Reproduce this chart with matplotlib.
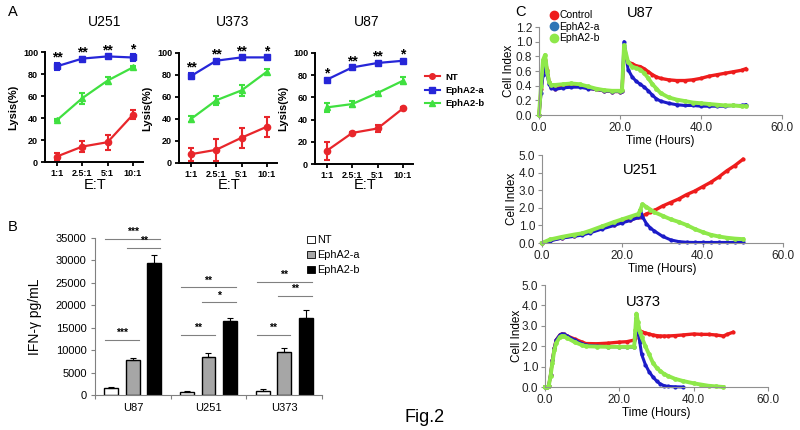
import numpy as np
import matplotlib
matplotlib.use('Agg')
import matplotlib.pyplot as plt
from matplotlib.lines import Line2D
from matplotlib.patches import Patch

plt.rcParams['font.family'] = ['Liberation Sans', 'DejaVu Sans']

W, H = 800, 430

# ---------------- panel A : lysis ----------------
ratios = ['1:1', '2.5:1', '5:1', '10:1']

u251_nt = [5, 14, 18, 43]
u251_nt_err = [3, 5, 7, 4]
u251_a = [87, 94, 96, 95]
u251_a_err = [3, 1, 1, 3]
u251_b = [38, 58, 74, 86]
u251_b_err = [1, 5, 3, 1]
u251_stars = ['**', '**', '**', '*']

u373_nt = [8, 12, 23, 33]
u373_nt_err = [6, 10, 9, 9]
u373_a = [79, 93, 96, 96]
u373_a_err = [3, 1, 1, 1]
u373_b = [40, 57, 66, 83]
u373_b_err = [3, 4, 5, 2]
u373_stars = ['**', '**', '**', '*']

u87_nt = [12, 28, 32, 50]
u87_nt_err = [8, 1, 3, 1]
u87_a = [76, 87, 91, 93]
u87_a_err = [1, 1, 1, 1]
u87_b = [51, 54, 64, 75]
u87_b_err = [4, 3, 1, 3]
u87_stars = ['*', '**', '**', '*']

# ---------------- panel B : IFN-gamma ----------------
cells_b = ['U87', 'U251', 'U373']
ifn_nt = [1500, 600, 900]
ifn_nt_err = [200, 250, 400]
ifn_a = [7700, 8500, 9600]
ifn_a_err = [500, 800, 800]
ifn_b = [29500, 16500, 17200]
ifn_b_err = [1700, 700, 1700]
# (group, bar from, bar to, height, label)
sig_bars = [(0, 0, 2, 34800, '***'), (0, 1, 2, 32800, '**'), (0, 0, 1, 12300, '***'),
            (1, 0, 2, 24000, '**'), (1, 1, 2, 20700, '*'), (1, 0, 1, 13400, '**'),
            (2, 0, 2, 25200, '**'), (2, 1, 2, 22100, '**'), (2, 0, 1, 13400, '**')]

# ---------------- panel C : cell index ----------------
u87_t = [0, 0.5, 1, 1.5, 2, 2.5, 3, 4, 6, 8,
         10, 12, 14, 16, 18, 20, 20.5, 21,
         22, 23, 24, 25, 26, 27, 28, 29, 30,
         32, 34, 36, 38, 40, 42, 44, 46, 48, 50, 51]
u87_ctrl = [0, 0.35, 0.6, 0.75, 0.62, 0.45, 0.38, 0.36, 0.38, 0.39,
            0.39, 0.37, 0.35, 0.33, 0.32, 0.32, 0.33, 0.85,
            0.72, 0.70, 0.67, 0.66, 0.63, 0.59, 0.55, 0.52, 0.50,
            0.48, 0.47, 0.47, 0.48, 0.50, 0.53, 0.55, 0.57, 0.59, 0.61, 0.63]
u87_epha = [0, 0.3, 0.55, 0.72, 0.55, 0.42, 0.37, 0.35, 0.37, 0.38,
            0.38, 0.36, 0.35, 0.33, 0.32, 0.32, 0.33, 1.0,
            0.62, 0.52, 0.46, 0.42, 0.38, 0.33, 0.27, 0.22, 0.19,
            0.16, 0.14, 0.13, 0.13, 0.12, 0.12, 0.12, 0.12, 0.13, 0.13, 0.14]
u87_ephb = [0, 0.4, 0.75, 0.82, 0.6, 0.45, 0.41, 0.41, 0.42, 0.43,
            0.42, 0.39, 0.36, 0.34, 0.33, 0.33, 0.34, 0.95,
            0.72, 0.66, 0.64, 0.62, 0.57, 0.5, 0.42, 0.36, 0.3,
            0.24, 0.21, 0.19, 0.17, 0.16, 0.15, 0.14, 0.13, 0.13, 0.12, 0.12]

u251_t = [0, 2, 5, 8, 10, 12, 15, 18, 20, 22, 24, 24.5, 25, 26, 27, 28,
          30, 32, 34, 36, 38, 40, 42, 44, 46, 48, 50]
u251_ctrl = [0, 0.15, 0.3, 0.42, 0.5, 0.62, 0.85, 1.05, 1.2, 1.32, 1.45, 1.5, 1.55, 1.65, 1.75, 1.85,
             2.1, 2.3, 2.5, 2.75, 2.95, 3.2, 3.45, 3.75, 4.1, 4.4, 4.75]
u251_epha = [0, 0.12, 0.28, 0.38, 0.45, 0.58, 0.8, 1.0, 1.15, 1.28, 1.45, 1.9, 1.5, 1.1, 0.85, 0.68,
             0.38, 0.18, 0.08, 0.04, 0.03, 0.03, 0.03, 0.03, 0.03, 0.03, 0.03]
u251_ephb = [0, 0.2, 0.35, 0.48, 0.55, 0.7, 0.95, 1.2, 1.35, 1.5, 1.65, 1.9, 2.2, 2.05, 1.9, 1.75,
             1.55, 1.35, 1.2, 1.02, 0.8, 0.62, 0.47, 0.37, 0.3, 0.25, 0.22]

u373_t = [0, 0.5, 1, 1.5, 2, 2.5, 3, 4, 4.5, 5,
          6, 8, 10, 11, 14, 17, 20, 22, 24, 24.3,
          24.6, 25, 25.5, 26, 27, 28, 29, 30, 31, 32,
          33, 35, 37, 40, 42, 44, 46, 48, 49, 50.5]
u373_ctrl = [0, 0, 0.05, 0.6, 1.3, 1.9, 2.3, 2.55, 2.6, 2.58,
             2.5, 2.35, 2.2, 2.13, 2.12, 2.15, 2.2, 2.22, 2.3, 2.4,
             2.6, 2.8, 2.75, 2.7, 2.65, 2.6, 2.55, 2.52, 2.5, 2.5,
             2.5, 2.52, 2.55, 2.6, 2.58, 2.58, 2.55, 2.5, 2.58, 2.68]
u373_epha = [0, 0, 0.05, 0.6, 1.3, 1.9, 2.3, 2.55, 2.6, 2.58,
             2.5, 2.3, 2.12, 2.05, 2.0, 1.98, 1.97, 1.96, 1.96, 2.6,
             3.4, 2.8, 2.2, 1.6, 1.1, 0.75, 0.5, 0.3, 0.15, 0.07,
             0.03, 0.01, 0, np.nan, np.nan, np.nan, np.nan, np.nan, np.nan, np.nan]
u373_ephb = [0, 0, 0.05, 0.55, 1.2, 1.8, 2.15, 2.45, 2.5, 2.48,
             2.4, 2.2, 2.05, 2.0, 1.98, 1.97, 1.97, 1.97, 1.98, 2.8,
             3.6, 3.2, 2.7, 2.45, 2.0, 1.6, 1.2, 0.95, 0.78, 0.65,
             0.55, 0.4, 0.3, 0.18, 0.12, 0.06, 0.03, 0.0, np.nan, np.nan]

fig = plt.figure(figsize=(8, 4.3), dpi=100)


def px_axes(l, t, r, b):
    return fig.add_axes([l / W, 1 - b / H, (r - l) / W, (b - t) / H])


def ftext(x, y, s, **kw):
    fig.text(x / W, 1 - y / H, s, **kw)


# ---- panel A
red_a, blue_a, green_a = '#e8262b', '#2626d8', '#40e040'
lysis_sets = [
    ('U251', (45, 52, 143, 162), u251_nt, u251_nt_err, u251_a, u251_a_err, u251_b, u251_b_err, u251_stars, 105),
    ('U373', (179, 53, 277, 163), u373_nt, u373_nt_err, u373_a, u373_a_err, u373_b, u373_b_err, u373_stars, 233),
    ('U87', (315, 53, 413, 164), u87_nt, u87_nt_err, u87_a, u87_a_err, u87_b, u87_b_err, u87_stars, 367),
]
xpos = np.arange(1, len(ratios) + 1)
for name, box, nt, nte, a, ae, b, be, stars, tx in lysis_sets:
    ax = px_axes(*box)
    for vals, errs, col, mk in [(nt, nte, red_a, 'o'), (b, be, green_a, '^'), (a, ae, blue_a, 's')]:
        ax.errorbar(xpos, vals, yerr=errs, color=col, marker=mk, ms=4.5, lw=1.6,
                    elinewidth=1.5, capsize=2.5, capthick=1.5, clip_on=False)
    for xi, yi, ei, s in zip(xpos, a, ae, stars):
        ax.text(xi, yi + ei + 1, s, ha='center', va='baseline', fontsize=10, fontweight='bold')
    ax.set_xlim(0.53, 4.4)
    ax.set_ylim(0, 100)
    ax.set_xticks(xpos)
    ax.set_xticklabels(ratios)
    ax.set_yticks([0, 20, 40, 60, 80, 100])
    for sp in ['top', 'right']:
        ax.spines[sp].set_visible(False)
    for sp in ['left', 'bottom']:
        ax.spines[sp].set_linewidth(1.4)
    ax.tick_params(labelsize=6.5, width=1.3, length=3, pad=2)
    for lab in ax.get_xticklabels() + ax.get_yticklabels():
        lab.set_fontweight('bold')
    ax.set_ylabel('Lysis(%)', fontsize=8, fontweight='bold')
    ax.yaxis.set_label_coords(-0.27, 0.5)
    ftext(tx, 22, name, ha='center', va='center', fontsize=10)
    ftext(np.mean([box[0] + 12, box[0] + 88]), 185, 'E:T', ha='center', va='center', fontsize=10.5)

leg_a = [Line2D([], [], color=red_a, marker='o', ms=4, lw=1.5),
         Line2D([], [], color=blue_a, marker='s', ms=4, lw=1.5),
         Line2D([], [], color=green_a, marker='^', ms=4, lw=1.5)]
fig.legend(leg_a, ['NT', 'EphA2-a', 'EphA2-b'], loc='upper left',
           bbox_to_anchor=(420 / W, 1 - 68 / H), frameon=False, handlelength=1.6,
           handletextpad=0.6, labelspacing=0.45, borderpad=0,
           prop={'size': 6.8, 'weight': 'bold'})

ftext(8, 12, 'A', fontsize=10.5, va='center')
ftext(8, 227, 'B', fontsize=10.5, va='center')
ftext(515, 12, 'C', fontsize=10.5, va='center')

# ---- panel B
axb = px_axes(95, 238, 322, 395)
grp = np.arange(len(cells_b))
bw = 0.185
offs = [-0.285, 0, 0.285]
styles = [('white', 'NT'), ('#a6a6a6', 'EphA2-a'), ('black', 'EphA2-b')]
for k, (vals, errs) in enumerate([(ifn_nt, ifn_nt_err), (ifn_a, ifn_a_err), (ifn_b, ifn_b_err)]):
    axb.bar(grp + offs[k], vals, width=bw, color=styles[k][0], edgecolor='black', lw=1.0,
            yerr=[np.zeros(len(errs)), errs], capsize=2.5,
            error_kw={'elinewidth': 0.8, 'capthick': 0.8, 'ecolor': 'black'}, label=styles[k][1])
for g, i0, i1, h, s in sig_bars:
    axb.plot([g + offs[i0] - 0.08, g + offs[i1] + 0.08], [h, h], color='#808080', lw=0.8)
    axb.text((g + offs[i0] + g + offs[i1]) / 2, h + 400, s, ha='center', va='bottom',
             fontsize=7.5, fontweight='bold')
axb.set_xlim(-0.5, 2.5)
axb.set_ylim(0, 35000)
axb.set_yticks(np.arange(0, 35001, 5000))
axb.set_xticks([-0.5, 0.5, 1.5, 2.5])
axb.set_xticklabels([])
axb.set_xticks(grp, minor=True)
axb.set_xticklabels(cells_b, minor=True)
axb.tick_params(axis='x', which='minor', length=0, labelsize=8, pad=6)
axb.tick_params(axis='x', which='major', length=3, color='#808080')
axb.tick_params(axis='y', labelsize=8, length=3, color='#808080', pad=3)
for sp in ['top', 'right']:
    axb.spines[sp].set_visible(False)
for sp in ['left', 'bottom']:
    axb.spines[sp].set_color('#808080')
    axb.spines[sp].set_linewidth(0.8)
axb.set_ylabel('IFN-γ pg/mL', fontsize=10)
axb.yaxis.set_label_coords(-0.235, 0.5)
leg_b = [Patch(facecolor=c, edgecolor='black', lw=0.6) for c, _ in styles]
fig.legend(leg_b, [l for _, l in styles], loc='upper left', bbox_to_anchor=(302 / W, 1 - 230 / H),
           frameon=False, handlelength=0.7, handleheight=0.7, handletextpad=0.2,
           labelspacing=0.45, borderpad=0, fontsize=7.8)

ftext(425, 418, 'Fig.2', fontsize=13, ha='center', va='center')

# ---- panel C
c_red, c_blue, c_green = '#ee1c1c', '#1c1cc8', '#8ee84a'
cell_sets = [
    ('U87', (539, 27, 782, 115), 1.2, 0.2, u87_t, u87_ctrl, u87_epha, u87_ephb, (640, 13)),
    ('U251', (542, 155, 783, 243), 5.0, 1.0, u251_t, u251_ctrl, u251_epha, u251_ephb, (640, 170)),
    ('U373', (545, 285, 768, 387), 5.0, 1.0, u373_t, u373_ctrl, u373_epha, u373_ephb, (643, 302)),
]
for name, box, ymax, ystep, t, ctrl, ea, eb, tpos in cell_sets:
    ax = px_axes(*box)
    ax.plot(t, ctrl, color=c_red, lw=2.4, marker='o', ms=2, clip_on=False)
    ax.plot(t, ea, color=c_blue, lw=2.2, marker='o', ms=2, clip_on=False)
    ax.plot(t, eb, color=c_green, lw=2.8, marker='o', ms=2.4, clip_on=False)
    ax.set_xlim(0, 60)
    ax.set_ylim(0, ymax)
    ax.set_xticks([0, 20, 40, 60])
    ax.set_xticklabels(['0.0', '20.0', '40.0', '60.0'])
    yt = np.arange(0, ymax + 1e-6, ystep)
    ax.set_yticks(yt)
    ax.set_yticklabels(['%.1f' % v for v in yt])
    for sp in ['top', 'right']:
        ax.spines[sp].set_visible(False)
    for sp in ['left', 'bottom']:
        ax.spines[sp].set_color('#909090')
        ax.spines[sp].set_linewidth(0.8)
    ax.tick_params(labelsize=8.5, length=3, color='#909090', pad=2, labelcolor='#222222')
    ax.set_xlabel('Time (Hours)', fontsize=8.5, labelpad=1)
    ax.set_ylabel('Cell Index', fontsize=8.5)
    ax.yaxis.set_label_coords(-0.1, 0.5)
    ftext(tpos[0], tpos[1], name, fontsize=10.5, ha='center', va='center')

leg_c = [Line2D([], [], ls='none', marker='o', ms=6, color=c) for c in ['#ee1c1c', '#2e75b6', '#8ee84a']]
fig.legend(leg_c, ['Control', 'EphA2-a', 'EphA2-b'], loc='upper left', bbox_to_anchor=(546 / W, 1 - 5 / H),
           frameon=False, handlelength=0.6, handletextpad=0.2, labelspacing=0.15, borderpad=0,
           fontsize=7.5)

fig.savefig('out.png', dpi=100)
